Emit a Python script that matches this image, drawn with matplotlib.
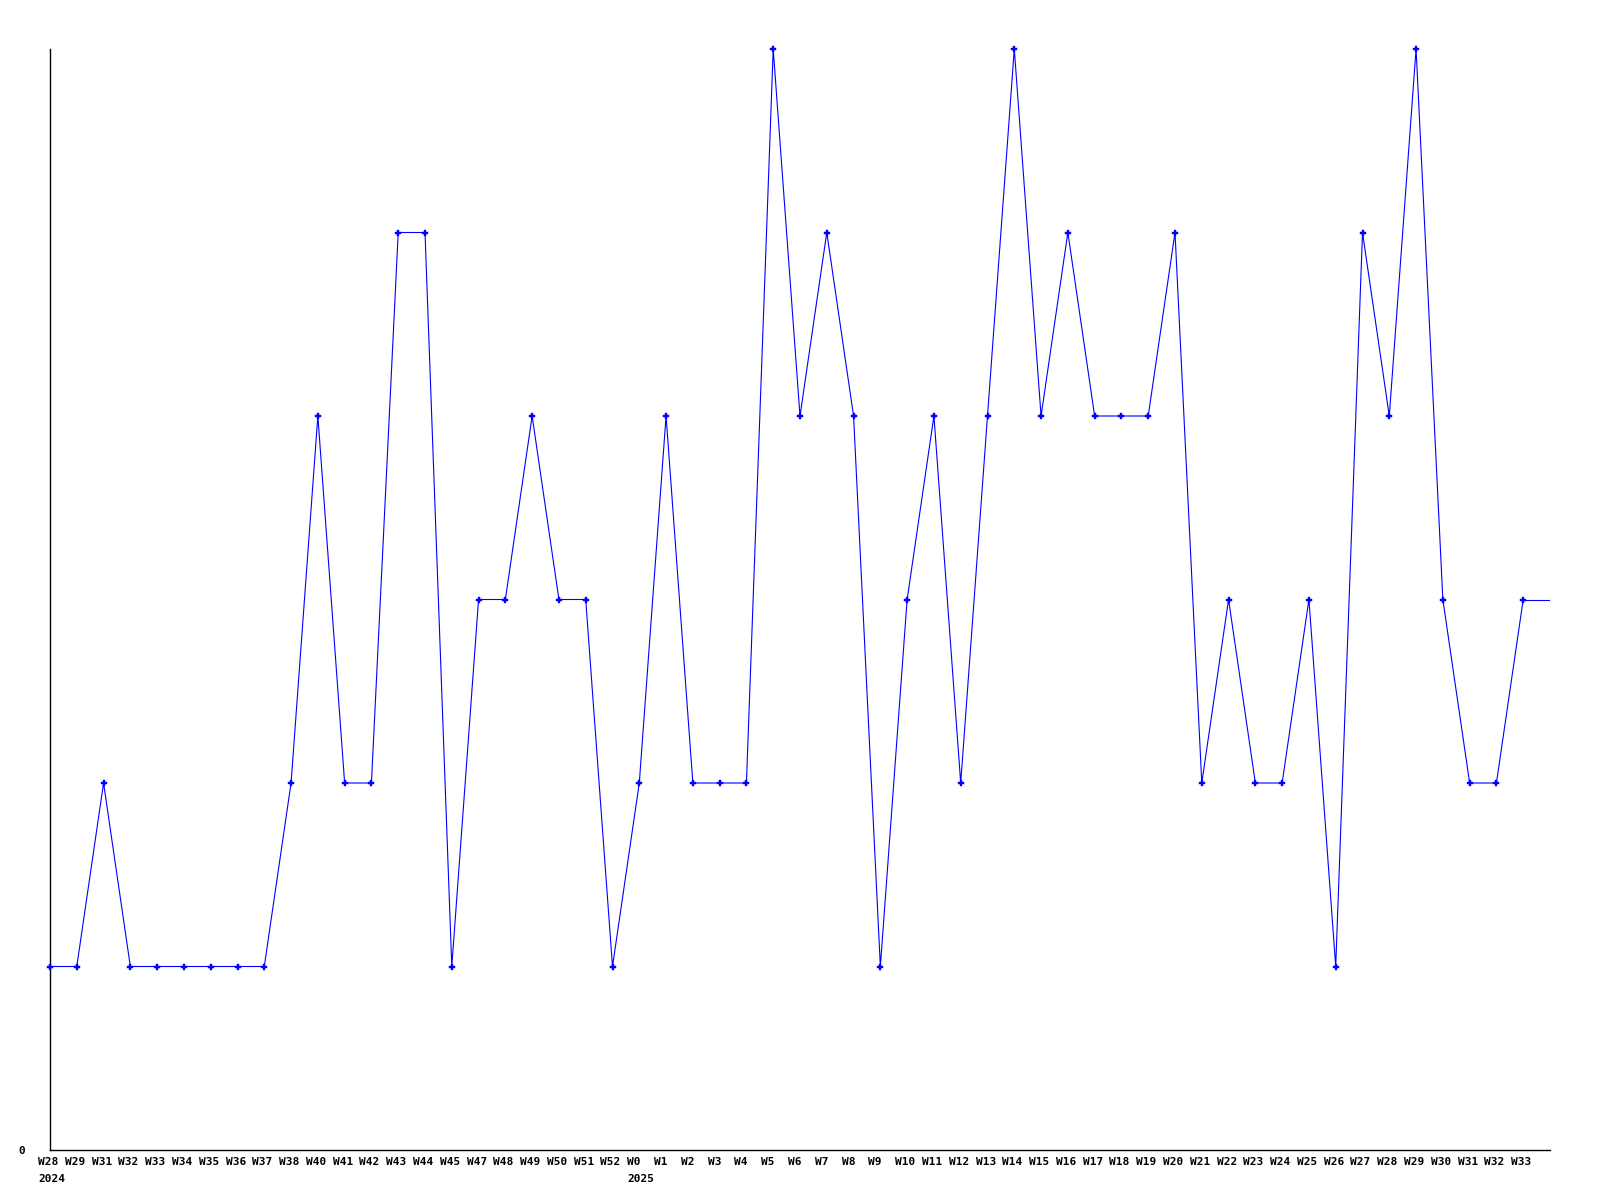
import matplotlib
matplotlib.use("Agg")
import matplotlib.pyplot as plt
import matplotlib.transforms as mtransforms

weeks = ["W28", "W29", "W31", "W32", "W33", "W34", "W35", "W36", "W37", "W38",
         "W40", "W41", "W42", "W43", "W44", "W45", "W47", "W48", "W49", "W50",
         "W51", "W52",
         "W0", "W1", "W2", "W3", "W4", "W5", "W6", "W7", "W8", "W9", "W10",
         "W11", "W12", "W13", "W14", "W15", "W16", "W17", "W18", "W19", "W20",
         "W21", "W22", "W23", "W24", "W25", "W26", "W27", "W28", "W29", "W30",
         "W31", "W32", "W33"]
values = [1, 1, 2, 1, 1, 1, 1, 1, 1, 2,
          4, 2, 2, 5, 5, 1, 3, 3, 4, 3,
          3, 1,
          2, 4, 2, 2, 2, 6, 4, 5, 4, 1, 3,
          4, 2, 4, 6, 4, 5, 4, 4, 4, 5,
          2, 3, 2, 2, 3, 1, 5, 4, 6, 3,
          2, 2, 3]
year_start_index = [0, 22]
years = ["2024", "2025"]

fig = plt.figure(figsize=(16, 12), dpi=100)
ax = fig.add_axes([50 / 1600, 1 - 1150 / 1200, 1500 / 1600, 1101 / 1200])

x = list(range(len(values)))
ax.plot(x, values, color="#0000ff", linewidth=0.8, marker="P", markersize=4,
        markerfacecolor="#0000ff", markeredgecolor="#0000ff",
        markeredgewidth=0.3, clip_on=False, zorder=3)
xmax = len(values)
# line continues flat to the right edge of the plot area
ax.plot([x[-1], xmax], [values[-1], values[-1]], color="#0000ff", linewidth=0.8)

ax.set_xlim(0, xmax)
ax.set_ylim(0, max(values))

for s in ["top", "right"]:
    ax.spines[s].set_visible(False)
for s in ["left", "bottom"]:
    ax.spines[s].set_color("black")
    ax.spines[s].set_linewidth(1.0)

font = dict(family="DejaVu Sans Mono", weight="bold", size=8)

ax.set_yticks([0])
ax.set_yticklabels(["0"], **font)
ax.tick_params(axis="y", length=0, pad=18)

ax.set_xticks(x)
ax.set_xticklabels(weeks, **font)
ax.tick_params(axis="x", length=0, pad=5)
offset = mtransforms.ScaledTranslation(-12 / 100, 0, fig.dpi_scale_trans)
for lab in ax.get_xticklabels():
    lab.set_horizontalalignment("left")
    lab.set_transform(lab.get_transform() + offset)

for idx, yr in zip(year_start_index, years):
    ax.annotate(yr, xy=(idx, 0), xycoords=("data", "axes fraction"),
                xytext=(-8.6, -17), textcoords="offset points",
                ha="left", va="top", **font)

fig.savefig("out.png", dpi=100, facecolor="white")
